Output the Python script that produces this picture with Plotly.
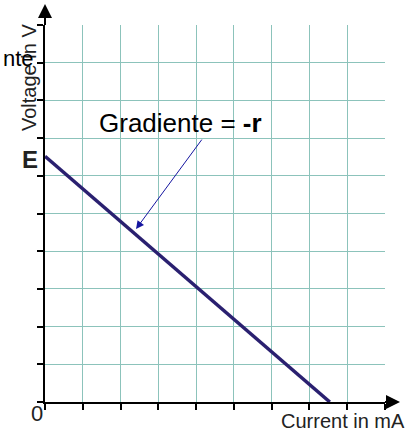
import plotly.graph_objects as go

# data (grid units)
current = [0, 7.54]
voltage = [6.52, 0]
E_value = 6.52
x_ticks = list(range(0, 10))
y_ticks = list(range(0, 11))

FONT = "Liberation Sans, Arial, sans-serif"
GRID = "#8cc3bb"

# plot area in pixels (page)
L, R, T, B = 45, 385, 25, 402
W, H = 416, 432


def px(xp, yp):
    return (xp - L) / (R - L), (B - yp) / (B - T)


fig = go.Figure()
fig.add_trace(go.Scatter(x=current, y=voltage, mode="lines",
                         line=dict(color="#2a2070", width=3.5),
                         hoverinfo="skip", showlegend=False, cliponaxis=False))

fig.update_layout(
    width=W, height=H,
    margin=dict(l=L, r=W - R, t=T, b=H - B, pad=0),
    paper_bgcolor="white", plot_bgcolor="white",
    showlegend=False,
    font=dict(family=FONT, color="black"),
)
fig.update_xaxes(range=[0, 9], tickvals=x_ticks, showticklabels=False,
                 showgrid=True, gridcolor=GRID, gridwidth=1,
                 zeroline=False, showline=True, linecolor="black", linewidth=2,
                 ticks="outside", ticklen=6, tickwidth=1.5, tickcolor="black",
                 fixedrange=True)
fig.update_yaxes(range=[0, 10], tickvals=y_ticks, showticklabels=False,
                 showgrid=True, gridcolor=GRID, gridwidth=1,
                 zeroline=False, showline=True, linecolor="black", linewidth=2,
                 ticks="outside", ticklen=6, tickwidth=1.5, tickcolor="black",
                 fixedrange=True)

# axis arrows (paper coords)
_, ybase = px(45, 18)
_, ytip = px(45, 4)
xl, _ = px(38, 0)
xr, _ = px(52, 0)
fig.add_shape(type="line", xref="paper", yref="paper", x0=0, y0=1, x1=0, y1=ybase,
              line=dict(color="black", width=2))
fig.add_shape(type="path", xref="paper", yref="paper",
              path=f"M {xl} {ybase} L {xr} {ybase} L 0 {ytip} Z",
              fillcolor="black", line=dict(color="black", width=0))
xb, _ = px(386, 0)
xt, _ = px(400, 0)
_, yu = px(0, 395)
_, yd = px(0, 409)
fig.add_shape(type="line", xref="paper", yref="paper", x0=1, y0=0, x1=xb, y1=0,
              line=dict(color="black", width=2))
fig.add_shape(type="path", xref="paper", yref="paper",
              path=f"M {xb} {yu} L {xb} {yd} L {xt} 0 Z",
              fillcolor="black", line=dict(color="black", width=0))


def label(text, xp, yp, size, xanchor="center", angle=0, color="#222"):
    x, y = px(xp, yp)
    return dict(text=text, x=x, y=y, xref="paper", yref="paper",
                xanchor=xanchor, yanchor="middle", showarrow=False,
                textangle=angle, font=dict(family=FONT, size=size, color=color))


ann = [
    label("<b>E</b>", 30, 159, 24),
    label("0", 37, 414, 22),
    label("Current in mA", 343, 421, 20),
    label("Voltage in V", 29, 78, 20, angle=-90),
    label("Gradiente = <b>-r</b>", 180, 123, 26, color="black"),
    label("nte", 1, 58, 22, xanchor="left", color="black"),
    dict(text="", x=2.41, y=4.59, ax=4.18, ay=7.0, xref="x", yref="y",
         axref="x", ayref="y", showarrow=True, arrowhead=2, arrowsize=1.6,
         arrowwidth=1, arrowcolor="#1515a0"),
]
fig.update_layout(annotations=ann)

fig.write_html("out.html", config={"displayModeBar": False},
               post_script="document.body.style.margin='0px';")
